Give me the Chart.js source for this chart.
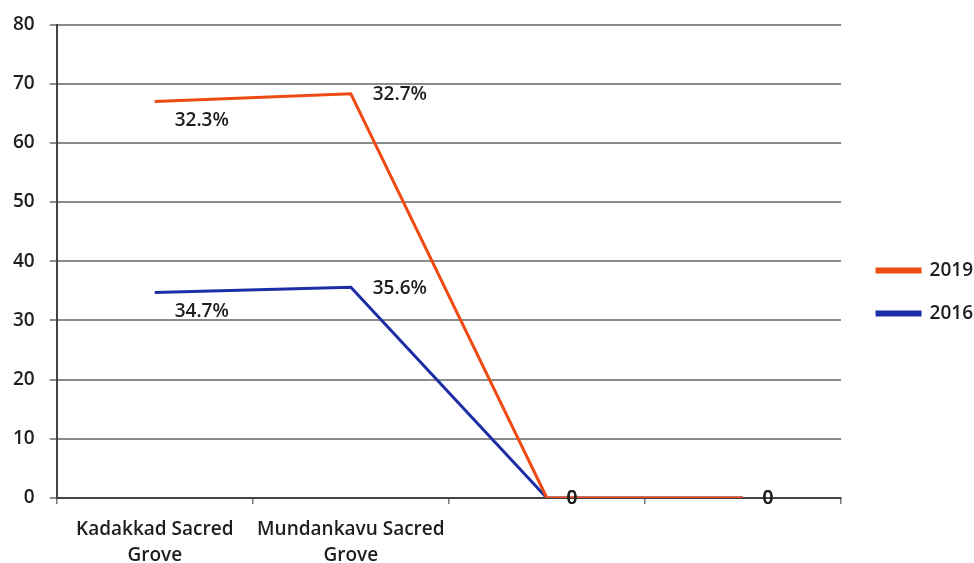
<!DOCTYPE html>
<html>
<head>
<meta charset="utf-8">
<script src="https://cdn.jsdelivr.net/npm/chart.js@4.4.1/dist/chart.umd.min.js"></script>
<style>
  html, body { margin: 0; padding: 0; background: #fff; }
  #wrap { position: relative; width: 974px; height: 563px; overflow: hidden; }
  #box { position: absolute; left: 0; top: 0; width: 974px; height: 581px; }
</style>
</head>
<body>
<div id="wrap"><div id="box"><canvas id="chart"></canvas></div></div>
<script>
const categories = [["Kadakkad Sacred", "Grove"], ["Mundankavu Sacred", "Grove"], "", ""];
const values2019 = [67, 68.3, 0, 0];
const values2016 = [34.7, 35.6, 0, 0];
const labels2019 = ["32.3%", "32.7%", "0", "0"];
const labels2016 = ["34.7%", "35.6%", "0", "0"];
const yTicks = [0, 10, 20, 30, 40, 50, 60, 70, 80];

const FONT = "'Open Sans', Lato, sans-serif";
const TEXT = "#1e1e1e";
const WEIGHT = 600;

// value labels sit to the right of each point, the first one a little lower
const pointLabels = {
    id: "pointLabels",
    afterDatasetsDraw(chart) {
        const ctx = chart.ctx;
        ctx.save();
        ctx.font = WEIGHT + " 19px " + FONT;
        ctx.fillStyle = TEXT;
        ctx.textAlign = "center";
        ctx.textBaseline = "middle";
        chart.data.datasets.forEach((ds, i) => {
            const meta = chart.getDatasetMeta(i);
            meta.data.forEach((pt, j) => {
                const text = ds.valueLabels[j];
                if (!text) return;
                let dx = 49, dy = 1;
                if (ds.data[j] === 0) { dx = 25; dy = 1; }
                else if (j === 0) { dx = 47; dy = 19; }
                ctx.fillText(text, pt.x + dx, pt.y + dy);
            });
        });
        ctx.restore();
    }
};

const ctx = document.getElementById("chart").getContext("2d");
new Chart(ctx, {
    type: "line",
    data: {
        labels: categories,
        datasets: [{
            label: "2019",
            data: values2019,
            valueLabels: labels2019,
            borderColor: "#ee4b14",
            backgroundColor: "#ee4b14",
            borderWidth: 3,
            pointRadius: 0,
            tension: 0
        }, {
            label: "2016",
            data: values2016,
            valueLabels: labels2016,
            borderColor: "#1c2ea6",
            backgroundColor: "#1c2ea6",
            borderWidth: 3,
            pointRadius: 0,
            tension: 0
        }]
    },
    options: {
        responsive: true,
        maintainAspectRatio: false,
        animation: false,
        layout: { padding: { top: 10, left: -2, right: -9, bottom: 0 } },
        plugins: {
            tooltip: { enabled: false },
            legend: {
                position: "right",
                align: "start",
                // empty title only pushes the entries down to mid height
                title: {
                    display: true,
                    text: "",
                    font: { size: 10, lineHeight: 1 },
                    padding: { top: 0, bottom: 217 }
                },
                labels: {
                    boxWidth: 43,
                    boxHeight: 3,
                    padding: 24,
                    color: TEXT,
                    font: { family: FONT, size: 19, weight: WEIGHT }
                }
            }
        },
        scales: {
            x: {
                offset: true,
                grid: {
                    offset: true,
                    drawOnChartArea: false,
                    drawTicks: true,
                    tickLength: 6,
                    color: "#777",
                    lineWidth: 1.5
                },
                border: { color: "#444", width: 2 },
                ticks: {
                    color: TEXT,
                    maxRotation: 0,
                    autoSkip: false,
                    padding: 12,
                    font: { family: FONT, size: 19, weight: WEIGHT, lineHeight: "26.5px" }
                }
            },
            y: {
                min: 0,
                max: 80,
                afterBuildTicks(axis) {
                    axis.ticks = yTicks.map(v => ({ value: v }));
                },
                grid: {
                    color: "#8c8c8c",
                    lineWidth: 2,
                    drawTicks: true,
                    tickLength: 7
                },
                border: { color: "#444", width: 2 },
                ticks: {
                    color: TEXT,
                    padding: 15,
                    font: { family: FONT, size: 19, weight: WEIGHT, lineHeight: 1 }
                }
            },
            // blank strip between the plot and the legend
            gap: {
                position: "right",
                display: true,
                grid: { display: false },
                border: { display: false },
                ticks: { display: false },
                afterFit(axis) { axis.width = 12; }
            }
        }
    },
    plugins: [pointLabels]
});
</script>
</body>
</html>
